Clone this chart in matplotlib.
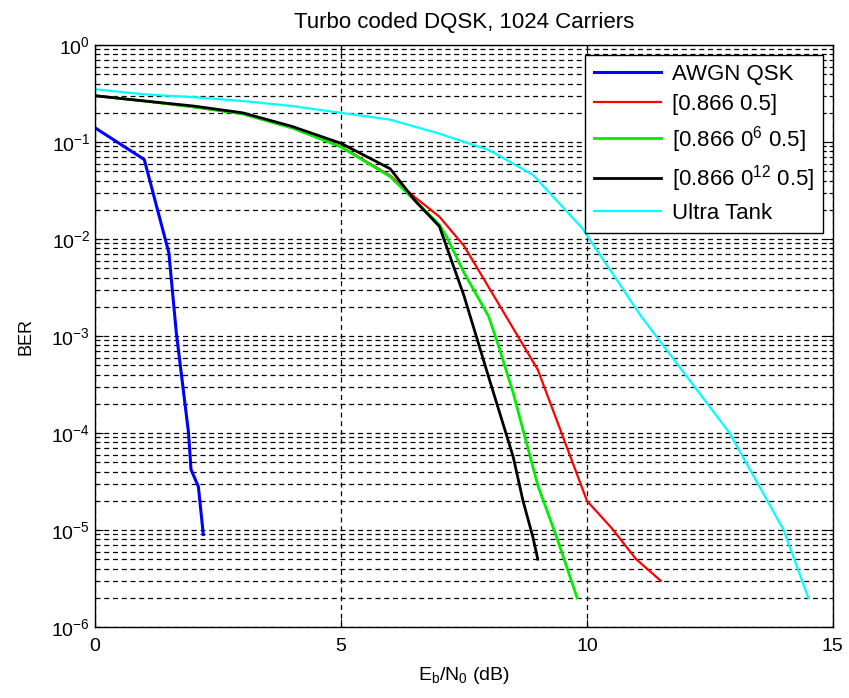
import matplotlib
matplotlib.use("Agg")
import matplotlib.pyplot as plt
from matplotlib.ticker import NullFormatter, FixedLocator, LogFormatterSciNotation

plt.rcParams['font.family'] = ['Liberation Sans', 'DejaVu Sans']
plt.rcParams['mathtext.fontset'] = 'custom'
plt.rcParams['mathtext.rm'] = 'Liberation Sans'
plt.rcParams['mathtext.it'] = 'Liberation Sans'
plt.rcParams['mathtext.bf'] = 'Liberation Sans'

title = "Turbo coded DQSK, 1024 Carriers"
xlabel = r"E$_\mathrm{b}$/N$_\mathrm{0}$ (dB)"
ylabel = "BER"
x_ticks = [0, 5, 10, 15]
y_decades = [-6, -5, -4, -3, -2, -1, 0]

awgn_x = [0, 1.0, 1.5, 1.65, 1.9, 1.95, 2.1, 2.2]
awgn_y = [0.14, 0.066, 0.0072, 1.1e-3, 1e-4, 4.2e-5, 2.8e-5, 9e-6]

red_x = [0, 1, 2, 3, 4, 5, 6, 6.5, 7, 7.5, 8, 8.5, 9, 9.5, 10, 10.5, 11, 11.5]
red_y = [0.30, 0.265, 0.23, 0.195, 0.14, 0.09, 0.045, 0.027, 0.017, 8.5e-3, 3.2e-3,
         1.2e-3, 4.5e-4, 9.5e-5, 2.0e-5, 1.05e-5, 5e-6, 3e-6]

green_x = [0, 1, 2, 3, 4, 5, 6, 6.5, 7, 7.15, 7.5, 8, 8.2, 8.5, 9, 9.4, 9.8]
green_y = [0.30, 0.265, 0.23, 0.195, 0.14, 0.089, 0.044, 0.025, 0.014, 0.0105, 4.5e-3,
           1.6e-3, 8e-4, 2.6e-4, 2.9e-5, 8e-6, 2e-6]

black_x = [0, 1, 2, 3, 4, 5, 6, 6.5, 7, 7.5, 8, 8.5, 8.7, 8.9, 9.0]
black_y = [0.30, 0.265, 0.235, 0.20, 0.145, 0.097, 0.053, 0.025, 0.0135, 2.6e-3, 3.8e-4,
           5.7e-5, 2e-5, 8.5e-6, 5e-6]

cyan_x = [0, 1, 2, 3, 4, 5, 6, 7, 8, 8.9, 9.9, 11.1, 12, 12.9, 14, 14.5]
cyan_y = [0.35, 0.31, 0.29, 0.265, 0.235, 0.20, 0.17, 0.122, 0.083, 0.046, 0.013,
          1.6e-3, 4e-4, 1e-4, 1e-5, 2e-6]

labels = ["AWGN QSK", "[0.866 0.5]", "[0.866 0$^{6}$ 0.5]",
          "[0.866 0$^{12}$ 0.5]", "Ultra Tank"]

fig = plt.figure(figsize=(8.49, 6.98), dpi=100)
ax = fig.add_axes([0.112, 0.1017, 0.869, 0.8338])

ax.plot(awgn_x, awgn_y, color='#0000ff', lw=2.2, label=labels[0])
ax.plot(red_x, red_y, color='#ff0000', lw=1.6, label=labels[1])
ax.plot(green_x, green_y, color='#00ee00', lw=2.0, label=labels[2])
ax.plot(black_x, black_y, color='black', lw=2.0, label=labels[3])
ax.plot(cyan_x, cyan_y, color='#00ffff', lw=1.6, label=labels[4])

ax.set_yscale('log')
ax.set_xlim(0, 15)
ax.set_ylim(1e-6, 1)
ax.xaxis.set_major_locator(FixedLocator(x_ticks))
major_y = [10.0 ** d for d in y_decades]
minor_y = [m * 10.0 ** d for d in y_decades[:-1] for m in range(2, 10)]
ax.yaxis.set_major_locator(FixedLocator(major_y))
ax.yaxis.set_major_formatter(LogFormatterSciNotation())
ax.yaxis.set_minor_locator(FixedLocator(minor_y))
ax.yaxis.set_minor_formatter(NullFormatter())

ax.grid(True, which='major', axis='both', color='black', linestyle=(0, (4, 3)), lw=0.9)
ax.grid(True, which='minor', axis='y', color='black', linestyle=(0, (4, 3)), lw=0.9)

ax.tick_params(which='both', direction='in', top=True, right=True, labelsize=14)
ax.tick_params(axis='x', which='major', pad=8)
ax.tick_params(which='major', length=6)
ax.tick_params(which='minor', length=3)
for s in ax.spines.values():
    s.set_linewidth(1.0)

ax.set_title(title, fontsize=16, pad=12)
ax.set_xlabel(xlabel, fontsize=14, labelpad=7)
ax.set_ylabel(ylabel, fontsize=13, labelpad=12)

leg = ax.legend(loc='upper right', fontsize=16, frameon=True, fancybox=False,
                edgecolor='black', framealpha=1, handlelength=3.0,
                borderaxespad=0.45, labelspacing=0.4, handletextpad=0.5)
leg.get_frame().set_linewidth(1.0)

fig.savefig("out.png", dpi=100)
